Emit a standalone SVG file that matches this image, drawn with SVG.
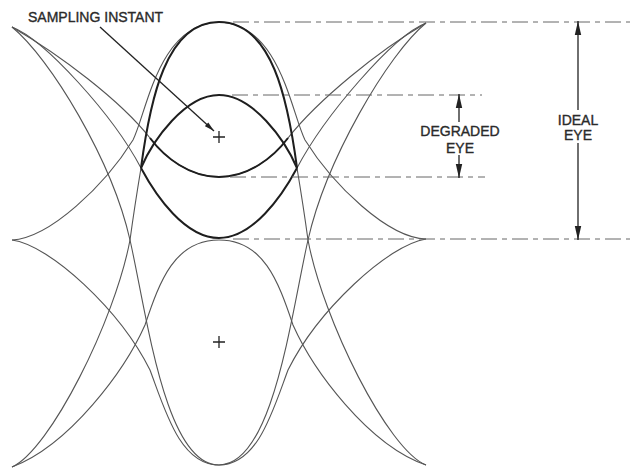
<svg xmlns="http://www.w3.org/2000/svg" width="630" height="469" viewBox="0 0 630 469">
<defs>
<style>
.thin{fill:none;stroke:#555;stroke-width:1.1}
.thick{fill:none;stroke:#1e1e1e;stroke-width:2}
.dash{fill:none;stroke:#666;stroke-width:1;stroke-dasharray:16 5 5 5}
.dim{fill:none;stroke:#222;stroke-width:1.3}
.lbl{font-family:"Liberation Sans",Arial,sans-serif;font-size:14px;fill:#2a2a2a;stroke:#2a2a2a;stroke-width:0.35}
</style>
<marker id="ah" viewBox="0 0 14 8" refX="14" refY="4" markerWidth="14" markerHeight="8" markerUnits="userSpaceOnUse" orient="auto">
<path d="M0,0.8 L14,4 L0,7.2 Z" fill="#222"/>
</marker>
<marker id="ahs" viewBox="0 0 10 6" refX="10" refY="3" markerWidth="10" markerHeight="6" markerUnits="userSpaceOnUse" orient="auto">
<path d="M0,0.5 L10,3 L0,5.5 Z" fill="#222"/>
</marker>
</defs>
<rect width="630" height="469" fill="#fff"/>

<g id="traces">
<!-- left half -->
<path class="thin" d="M12,27 C50,58 112,160 130,240 C147,315 165,465 219,465"/>
<path class="thin" d="M12,27 C60,55 120,100 150,138 C165,158 190,177 219,177"/>
<path class="thin" d="M12,27 C45,40 113,115 141,168"/>
<path class="thin" d="M12,240 C50,238 105,185 133,140 C147,112 158,24 219,22"/>
<path class="thin" d="M12,467 C50,450 115,320 130,240 C133,218 137,192 141,168"/>
<path class="thin" d="M12,240 C50,245 120,310 150,370 C165,410 180,465 219,465"/>
<path class="thin" d="M12,467 C70,445 125,370 145,325 C160,280 175,240 219,240"/>
<!-- right half -->
<path class="thin" d="M426,23 C388,54 326,160 308,240 C291,315 273,465 219,465"/>
<path class="thin" d="M426,23 C378,51 318,100 288,138 C273,158 248,177 219,177"/>
<path class="thin" d="M426,23 C393,36 325,115 297,168"/>
<path class="thin" d="M426,239 C388,238 333,185 305,140 C291,112 280,24 219,22"/>
<path class="thin" d="M426,465 C388,450 323,320 308,240 C305,218 301,192 297,168"/>
<path class="thin" d="M426,239 C388,245 318,310 288,370 C273,410 258,465 219,465"/>
<path class="thin" d="M426,465 C368,445 313,370 293,325 C278,280 263,240 219,240"/>
</g>

<g id="ideal-eye-outline">
<path class="thick" d="M141,168 C150,100 166,22 219,22 C272,22 288,100 297,168"/>
<path class="thick" d="M141,168 C156,196 185,238 219,238 C253,238 282,196 297,168"/>
</g>
<g id="degraded-eye-outline">
<path class="thick" d="M141,168 C153,140 185,95 219,95 C253,95 285,140 297,168"/>
<path class="thick" d="M150,138 C165,158 190,177 219,177 C248,177 273,158 288,138"/>
</g>

<g id="levels">
<line class="dash" x1="233" y1="22" x2="630" y2="22"/>
<line class="dash" x1="232" y1="95" x2="482" y2="95"/>
<line class="dash" x1="230" y1="177" x2="485" y2="177"/>
<line class="dash" x1="233" y1="239" x2="630" y2="239"/>
</g>

<g id="sampling-marks">
<path class="dim" d="M213,137 H225 M219,131 V143"/>
<path class="dim" d="M213,342 H225 M219,336 V348"/>
</g>

<g id="sampling-instant">
<text class="lbl" x="28" y="22">SAMPLING INSTANT</text>
<line class="dim" x1="100" y1="27" x2="214" y2="131" marker-end="url(#ahs)"/>
</g>

<g id="degraded-eye">
<line class="dim" x1="459" y1="122" x2="459" y2="94" marker-end="url(#ah)"/>
<line class="dim" x1="459" y1="155" x2="459" y2="178" marker-end="url(#ah)"/>
<text class="lbl" x="460" y="136" text-anchor="middle">DEGRADED</text>
<text class="lbl" x="460" y="153" text-anchor="middle">EYE</text>
</g>

<g id="ideal-eye">
<line class="dim" x1="578" y1="110" x2="578" y2="21" marker-end="url(#ah)"/>
<line class="dim" x1="578" y1="143" x2="578" y2="240" marker-end="url(#ah)"/>
<text class="lbl" x="578" y="125" text-anchor="middle">IDEAL</text>
<text class="lbl" x="578" y="140" text-anchor="middle">EYE</text>
</g>
</svg>
